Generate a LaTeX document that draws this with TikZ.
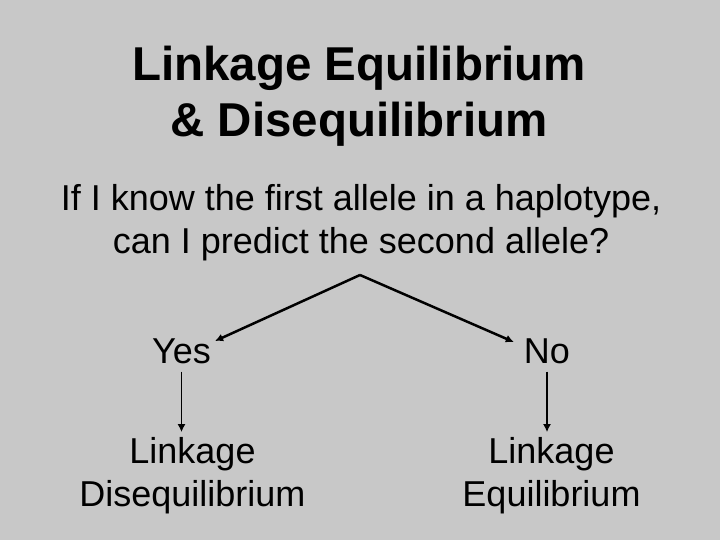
\documentclass[tikz,border=0pt]{standalone}
\usepackage{fontspec}
\setmainfont{Liberation Sans}
\usepackage{tikz}
\usetikzlibrary{arrows.meta}
\definecolor{slidegray}{RGB}{200,200,200}
\tikzset{font={\fontsize{36pt}{43pt}\selectfont}}

\begin{document}
\begin{tikzpicture}[x=1pt,y=1pt,
                    word/.style={inner sep=0pt,anchor=north,align=center},
                    title/.style={word,font=\fontsize{47.5pt}{56pt}\selectfont\bfseries},
                    fork arrow/.style={-{Latex[length=8pt,width=8pt]},line width=2.5pt},
                    down arrow/.style={-{Latex[length=8pt,width=8pt]},line width=1.1pt}]

  \fill[slidegray] (0,0) rectangle (720,-540);
  \useasboundingbox (0,0) rectangle (720,-540);

  \node[title] (head) at (359,-46) {Linkage Equilibrium\\\& Disequilibrium};
  \node[word] (quest) at (361,-184) {If I know the first allele in a haplotype,\\can I predict the second allele?};
  \coordinate (fork) at (360,-275);

  \node[word] (yes) at (181.5,-339) {Yes};
  \node[word] (no)  at (547,-339) {No};
  \node[word] (dis) at (192.5,-437) {Linkage\\Disequilibrium};
  \node[word] (equ) at (551.5,-437) {Linkage\\Equilibrium};

  \draw[fork arrow] (fork) -- ([xshift=4pt,yshift=-2pt]yes.north east);
  \draw[fork arrow] (fork) -- ([xshift=-10pt,yshift=-3pt]no.north west);
  \path[down arrow,shorten <=7pt,shorten >=5pt]
    (yes.south) edge (yes.south |- dis.north)
    (no.south) edge (no.south |- equ.north);
\end{tikzpicture}
\end{document}
